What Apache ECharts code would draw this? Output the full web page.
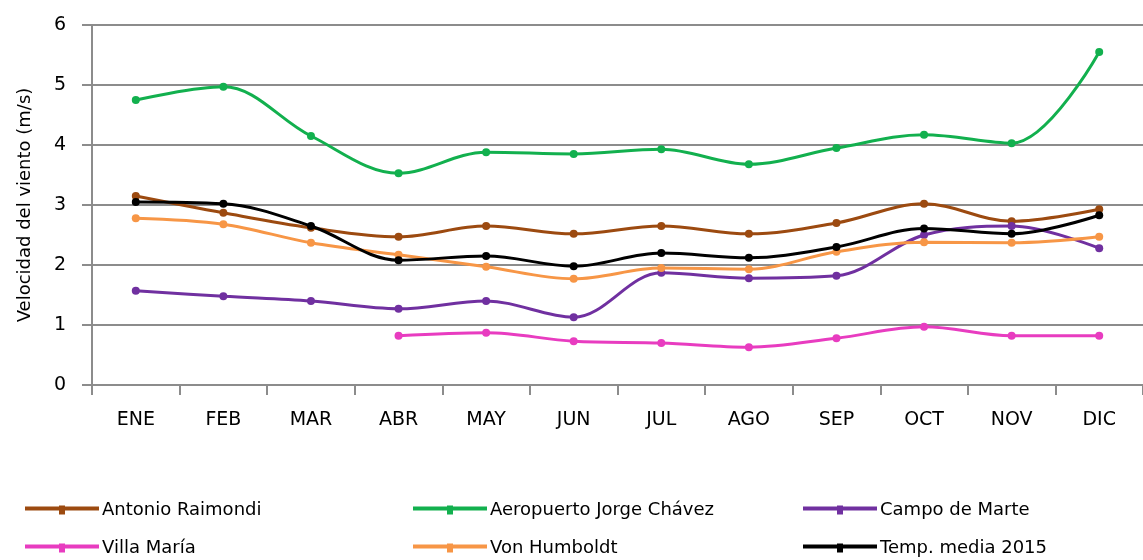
<!DOCTYPE html>
<html>
<head>
<meta charset="utf-8">
<script src="https://cdn.jsdelivr.net/npm/echarts@6/dist/echarts.min.js"></script>
<style>
  html, body { margin: 0; padding: 0; background: #fff; }
  #chart { width: 1143px; height: 560px; }
</style>
</head>
<body>
<div id="chart"></div>
<script>
// meses
const months = ['ENE', 'FEB', 'MAR', 'ABR', 'MAY', 'JUN', 'JUL', 'AGO', 'SEP', 'OCT', 'NOV', 'DIC']

// velocidad del viento (m/s) por estación
const antonioRaimondi = [3.15, 2.87, 2.62, 2.47, 2.65, 2.52, 2.65, 2.52, 2.7, 3.02, 2.73, 2.93]
const aeropuertoChavez = [4.75, 4.97, 4.15, 3.53, 3.88, 3.85, 3.93, 3.68, 3.95, 4.17, 4.03, 5.55]
const campoDeMarte = [1.57, 1.48, 1.4, 1.27, 1.4, 1.13, 1.87, 1.78, 1.82, 2.5, 2.65, 2.28]
const villaMaria = [null, null, null, 0.82, 0.87, 0.73, 0.7, 0.63, 0.78, 0.97, 0.82, 0.82]
const vonHumboldt = [2.78, 2.68, 2.37, 2.17, 1.97, 1.77, 1.95, 1.93, 2.22, 2.38, 2.37, 2.47]
const tempMedia = [3.05, 3.02, 2.65, 2.08, 2.15, 1.98, 2.2, 2.12, 2.3, 2.61, 2.52, 2.83]

const names = ['Antonio Raimondi', 'Aeropuerto Jorge Chávez', 'Campo de Marte', 'Villa María', 'Von Humboldt', 'Temp. media 2015']
const values = [antonioRaimondi, aeropuertoChavez, campoDeMarte, villaMaria, vonHumboldt, tempMedia]
const colors = ['#9C4A10', '#12B04E', '#7030A0', '#E83CC0', '#F79646', '#000000']

const font = 'DejaVu Sans'
const chart = echarts.init(document.getElementById('chart'))

// una leyenda por elemento, en dos filas de tres
const legendPos = [[20, 496], [408, 496], [798, 496], [20, 534], [408, 534], [798, 534]]
const legends = names.map((n, i) => ({
    data: [n],
    left: legendPos[i][0],
    top: legendPos[i][1],
    itemWidth: 74,
    itemHeight: 22,
    itemGap: 0,
    // línea con un pequeño marcador al centro
    icon: 'path://M0,9 L74,9 L74,13 L0,13 Z M34,8 L40,8 L40,17 L34,17 Z',
    textStyle: {fontFamily: font, fontSize: 18, color: '#000', padding: [0, 0, 0, -2]}
}))

chart.setOption({
    animation: false,
    color: colors,
    legend: legends,
    grid: {left: 92, top: 25, width: 1061, height: 360, containLabel: false},
    xAxis: {
        type: 'category',
        data: months,
        boundaryGap: true,
        axisLine: {lineStyle: {color: '#8c8c8c', width: 2}},
        axisTick: {show: true, length: 10, lineStyle: {color: '#8c8c8c', width: 2}},
        axisLabel: {fontFamily: font, fontSize: 19, color: '#000', margin: 26}
    },
    yAxis: {
        type: 'value',
        min: 0,
        max: 6,
        interval: 1,
        name: 'Velocidad del viento (m/s)',
        nameLocation: 'middle',
        nameGap: 58,
        nameTextStyle: {fontFamily: font, fontSize: 18, color: '#000'},
        axisLine: {show: true, lineStyle: {color: '#8c8c8c', width: 2}},
        axisTick: {show: true, length: 10, lineStyle: {color: '#8c8c8c', width: 2}},
        axisLabel: {fontFamily: font, fontSize: 19, color: '#000', margin: 26},
        splitLine: {lineStyle: {color: '#8c8c8c', width: 2}}
    },
    series: names.map((n, i) => ({
        name: n,
        type: 'line',
        data: values[i],
        smooth: 0.35,
        symbol: 'circle',
        symbolSize: 8,
        lineStyle: {width: 3, color: colors[i]},
        itemStyle: {color: colors[i]},
        z: i === 5 ? 3 : 2
    }))
})
</script>
</body>
</html>
